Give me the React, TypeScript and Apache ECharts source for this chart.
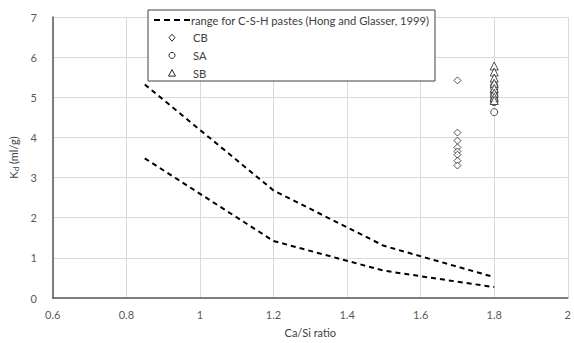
import React, { useEffect, useRef } from "react";
import * as echarts from "echarts";

const rangeX = [0.85, 1.2, 1.5, 1.8];
const upperKd = [5.32, 2.68, 1.3, 0.52];
const lowerKd = [3.48, 1.42, 0.68, 0.27];

const cbX = 1.7;
const cbKd = [5.42, 4.12, 3.92, 3.75, 3.65, 3.57, 3.42, 3.3];
const saX = 1.8;
const saKd = [5.3, 5.22, 5.12, 5.05, 4.95, 4.88, 4.63];
const sbX = 1.8;
const sbKd = [5.78, 5.63, 5.48, 5.35, 5.22, 5.1, 5.0, 4.92];

const legendLabels = ["range for C-S-H pastes (Hong and Glasser, 1999)", "CB", "SA", "SB"];
const xTitle = "Ca/Si ratio";

const FONT = "Lato, 'Open Sans', sans-serif";

export default function App() {
  const ref = useRef<HTMLDivElement>(null);
  useEffect(() => {
    if (!ref.current) return;
    const chart = echarts.init(ref.current, undefined, { renderer: "svg" });
    const pts = (xs: number[], ys: number[]) => xs.map((x, i) => [x, ys[i]]);
    const dashStyle = { color: "#000", width: 2, type: [5, 4] as any };
    const markerStyle = { color: "#fff", borderColor: "#262626", borderWidth: 1 };
    const lx = 148, ly = 10, lw = 287, lh = 71, rowH = 17.7;
    const rowY = (i: number) => ly + 10 + i * rowH;
    chart.setOption({
      animation: false,
      textStyle: { fontFamily: FONT },
      grid: { left: 50, right: 2, top: 17, bottom: 39, containLabel: false },
      xAxis: {
        type: "value",
        min: 0.6,
        max: 2,
        interval: 0.2,
        name: xTitle,
        nameLocation: "middle",
        nameGap: 29,
        nameTextStyle: { color: "#404040", fontSize: 11, fontFamily: FONT },
        axisLine: { show: true, lineStyle: { color: "#595959", width: 1.5 } },
        axisTick: { show: false },
        axisLabel: { color: "#595959", fontSize: 11, margin: 11, fontFamily: FONT },
        splitLine: { show: true, lineStyle: { color: "#d9d9d9", width: 1 } },
      },
      yAxis: {
        type: "value",
        min: 0,
        max: 7,
        interval: 1,
        name: "{k|K}{d|d}{k| (ml/g)}",
        nameLocation: "middle",
        nameGap: 31,
        nameRotate: 90,
        nameTextStyle: {
          rich: {
            k: { fontSize: 11, color: "#404040", fontFamily: FONT },
            d: { fontSize: 8, color: "#404040", fontFamily: FONT, verticalAlign: "bottom", padding: [4, 0, 0, 0] },
          },
        },
        axisLine: { show: true, lineStyle: { color: "#595959", width: 1.5 } },
        axisTick: { show: false },
        axisLabel: { color: "#595959", fontSize: 11, margin: 16, fontFamily: FONT },
        splitLine: { show: true, lineStyle: { color: "#d9d9d9", width: 1 } },
      },
      series: [
        { type: "line", data: pts(rangeX, upperKd), showSymbol: false, lineStyle: dashStyle, z: 3 },
        { type: "line", data: pts(rangeX, lowerKd), showSymbol: false, lineStyle: dashStyle, z: 3 },
        { type: "scatter", data: cbKd.map((v) => [cbX, v]), symbol: "diamond", symbolSize: 7, itemStyle: markerStyle, z: 4 },
        { type: "scatter", data: saKd.map((v) => [saX, v]), symbol: "circle", symbolSize: 7, itemStyle: markerStyle, z: 4 },
        { type: "scatter", data: sbKd.map((v) => [sbX, v]), symbol: "triangle", symbolSize: 8, itemStyle: markerStyle, z: 4 },
      ],
      graphic: [
        {
          type: "rect",
          shape: { x: lx, y: ly, width: lw, height: lh },
          style: { fill: "#fff", stroke: "#404040", lineWidth: 1 },
          z: 10,
        },
        {
          type: "line",
          shape: { x1: 154, y1: rowY(0), x2: 190, y2: rowY(0) },
          style: { stroke: "#000", lineWidth: 2, lineDash: [6, 4] },
          z: 11,
        },
        {
          type: "polygon",
          shape: { points: [[172, rowY(1) - 3.5], [175, rowY(1)], [172, rowY(1) + 3.5], [169, rowY(1)]] },
          style: { fill: "#fff", stroke: "#262626", lineWidth: 1 },
          z: 11,
        },
        {
          type: "circle",
          shape: { cx: 172, cy: rowY(2), r: 3 },
          style: { fill: "#fff", stroke: "#262626", lineWidth: 1 },
          z: 11,
        },
        {
          type: "polygon",
          shape: { points: [[172, rowY(3) - 3.5], [175.5, rowY(3) + 3], [168.5, rowY(3) + 3]] },
          style: { fill: "#fff", stroke: "#262626", lineWidth: 1 },
          z: 11,
        },
        ...legendLabels.map((t, i) => ({
          type: "text",
          x: i === 0 ? 191 : 193,
          y: rowY(i),
          style: { text: t, fill: "#404040", font: `11.2px ${FONT}`, verticalAlign: "middle" },
          z: 11,
        })),
      ],
    });
    return () => chart.dispose();
  }, []);
  return <div ref={ref} style={{ width: 574, height: 343, position: "fixed", left: 0, top: 0, background: "#fff" }} />;
}
